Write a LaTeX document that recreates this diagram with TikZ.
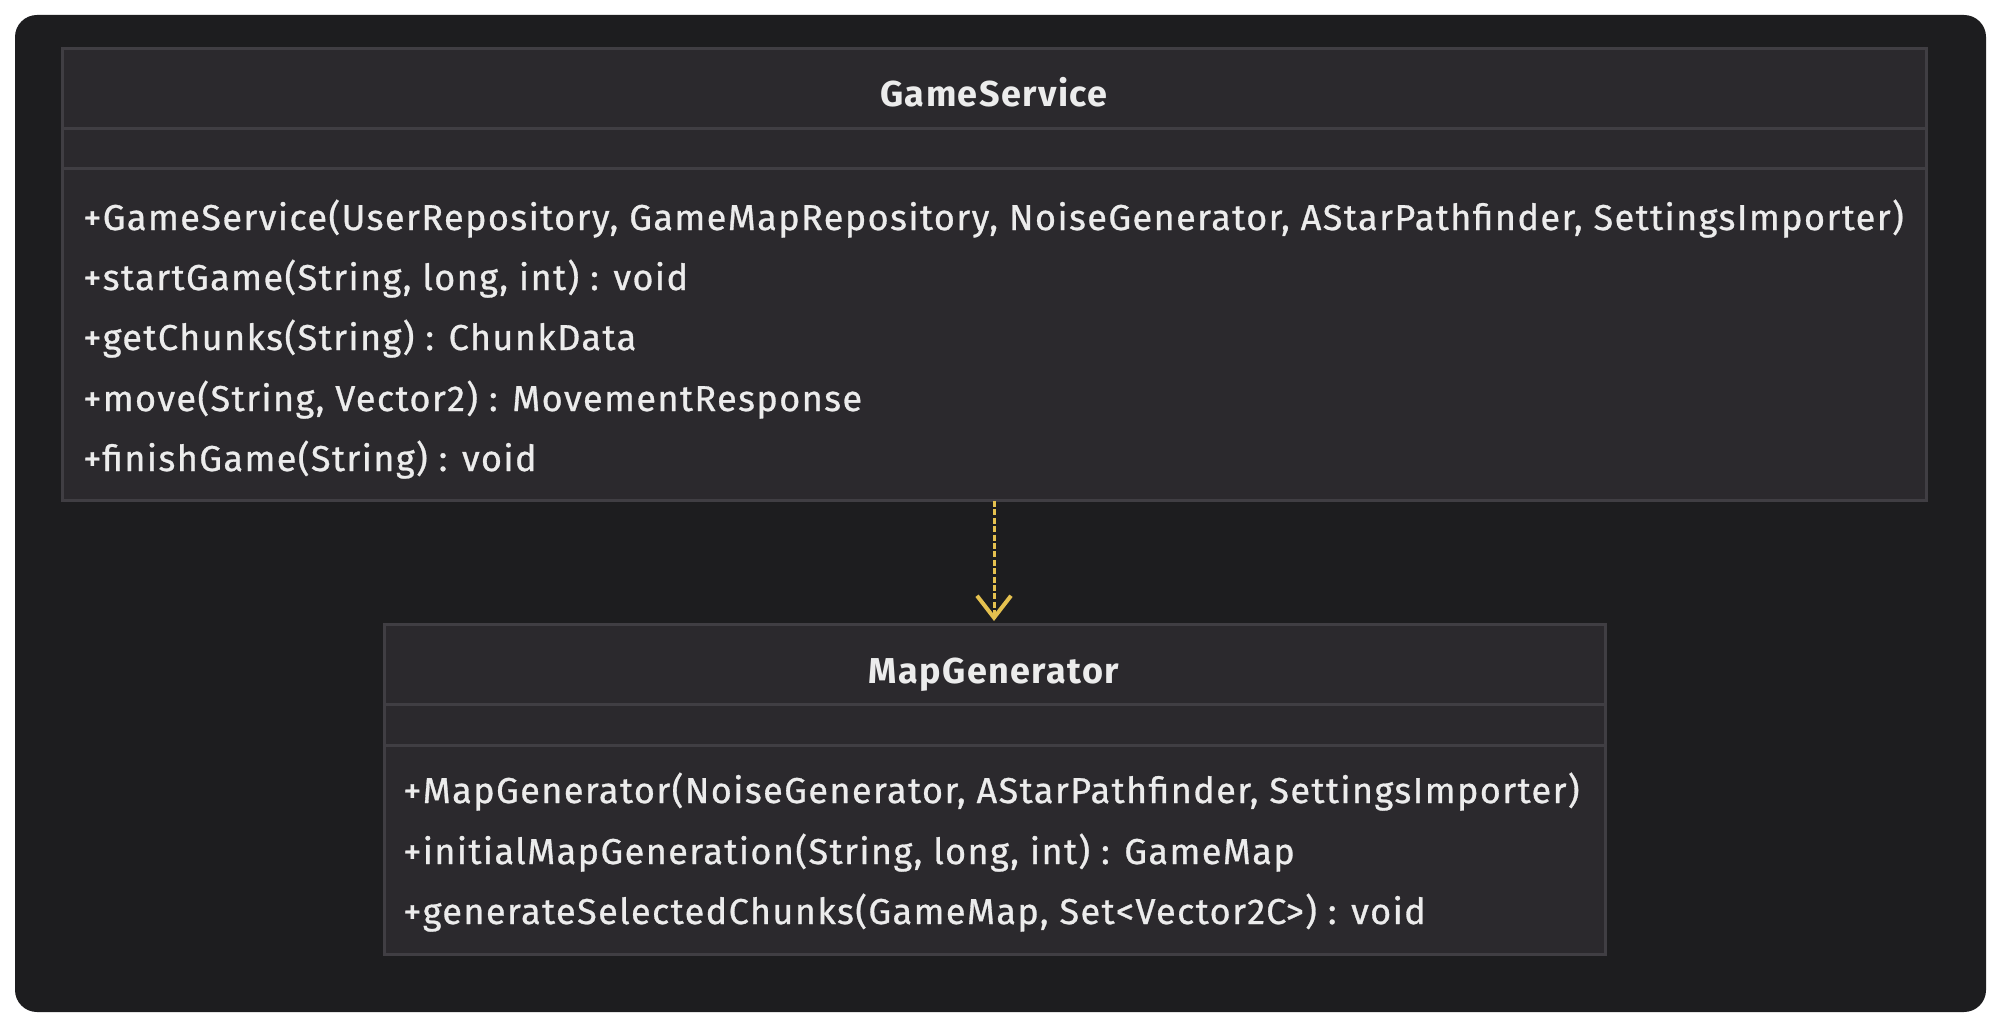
\documentclass[tikz,border=0pt]{standalone}
\usepackage{fontspec}
\newfontfamily\memberfont{Fira Sans}[LetterSpace=4,FakeBold=0.8]
\newfontfamily\titlefont{Fira Sans}[LetterSpace=4]
\usetikzlibrary{arrows.meta}
\definecolor{pagebg}{HTML}{1D1D1F}
\definecolor{boxfill}{HTML}{2B292D}
\definecolor{boxline}{HTML}{403E43}
\definecolor{txt}{HTML}{ECECEC}
\definecolor{arrowc}{HTML}{E5C14F}
\tikzset{
  umlbox/.style={draw=boxline, fill=boxfill, line width=1.5pt},
  divider/.style={draw=boxline, line width=1.5pt},
  member/.style={anchor=base west, inner sep=0pt, text=txt, font=\memberfont\fontsize{18pt}{20pt}\selectfont},
  classtitle/.style={anchor=base, inner sep=0pt, text=txt, font=\titlefont\fontsize{18pt}{20pt}\selectfont\bfseries},
  dep/.style={draw=arrowc, line width=1.5pt, dash pattern=on 3pt off 1.2pt, -{Straight Barb[length=11pt,width=17pt,line width=2pt]}}
}
\begin{document}
\begin{tikzpicture}[x=0.5pt,y=-0.5pt]
\useasboundingbox (0,0) rectangle (2000,1027);
\fill[white] (0,0) rectangle (2000,1027);
\fill[pagebg, rounded corners=11pt] (15,15) rectangle (1986,1012);
% GameService
\path[umlbox] (62,49) rectangle (1926,500);
\coordinate (gsbottom) at (994,501);
\draw[divider] (62,129) -- (1926,129);
\draw[divider] (62,169) -- (1926,169);
\node[classtitle] (gst) at (994,107) {GameService};
\node[member] (gs1) at (83,230) {+GameService(UserRepository, GameMapRepository, NoiseGenerator, AStarPathfinder, SettingsImporter)};
\node[member] (gs2) at (83,290) {+startGame(String, long, int) : void};
\node[member] (gs3) at (83,350) {+getChunks(String) : ChunkData};
\node[member] (gs4) at (83,411) {+move(String, Vector2) : MovementResponse};
\node[member] (gs5) at (83,471) {+finishGame(String) : void};
% MapGenerator
\path[umlbox] (384,624) rectangle (1605,954);
\coordinate (mgtop) at (994,621);
\draw[divider] (384,704) -- (1605,704);
\draw[divider] (384,745) -- (1605,745);
\node[classtitle] (mgt) at (994,683) {MapGenerator};
\node[member] (mg1) at (403,803) {+MapGenerator(NoiseGenerator, AStarPathfinder, SettingsImporter)};
\node[member] (mg2) at (403,864) {+initialMapGeneration(String, long, int) : GameMap};
\node[member] (mg3) at (403,924) {+generateSelectedChunks(GameMap, Set<Vector2C>) : void};
% dependency
\draw[dep] (gsbottom) -- (mgtop);
\end{tikzpicture}
\end{document}
